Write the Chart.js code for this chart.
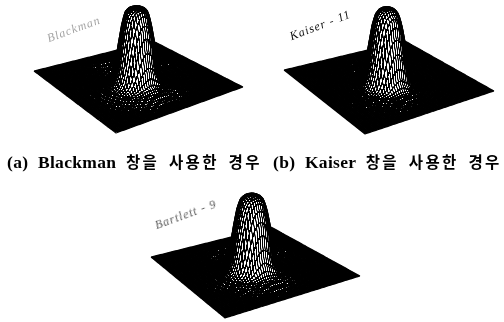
<!DOCTYPE html>
<html>
<head>
<meta charset="utf-8">
<script src="https://cdn.jsdelivr.net/npm/chart.js@4"></script>
<style>
    html, body { margin: 0; padding: 0; background: #fff; }
    #page { position: relative; width: 504px; height: 322px; overflow: hidden; }
    canvas { position: absolute; filter: blur(0.35px) contrast(3.5); }
    .caption {
        position: absolute; white-space: pre; color: #000; font-size: 17.5px; font-weight: bold;
        font-family: "Liberation Serif", serif; letter-spacing: 0.3px; word-spacing: 5px;
        filter: blur(0.3px);
    }
    .caption span {
        font-family: "Noto Sans CJK KR", sans-serif; font-size: 15.5px; letter-spacing: 2.4px;
    }
    .note {
        position: absolute; white-space: pre; color: #111; font-size: 12px; font-style: italic;
        font-family: "Liberation Serif", serif; transform-origin: left bottom; letter-spacing: 1px;
    }
</style>
</head>
<body>
<div id="page"></div>
<script>
// Magnitude, one value per radius step from the peak centre
const radiusStep = 0.02;
const blackmanMag = [1, 1, 0.995, 0.98, 0.93, 0.77, 0.54, 0.3, 0.13, 0.05, 0.026, 0.0, 0.026, 0.0, 0.024, 0.0, 0.022, 0.0, 0.018, 0.0, 0.012, 0, 0.006, 0, 0, 0, 0, 0, 0, 0];
const kaiserMag = [1, 0.995, 0.985, 0.96, 0.9, 0.76, 0.54, 0.3, 0.12, 0.035, 0.016, 0.0, 0.016, 0.0, 0.014, 0.0, 0.012, 0, 0.01, 0, 0.008, 0, 0.004, 0, 0, 0, 0, 0, 0, 0];
const bartlettMag = [1, 0.995, 0.985, 0.965, 0.92, 0.8, 0.6, 0.36, 0.16, 0.055, 0.026, 0.0, 0.024, 0.0, 0.022, 0.0, 0.02, 0, 0.016, 0, 0.01, 0, 0.006, 0, 0, 0, 0, 0, 0, 0];

const captionLabels = ['(a) Blackman 창을 사용한 경우', '(b) Kaiser 창을 사용한 경우'];
const noteLabels = ['Blackman', 'Kaiser - 11', 'Bartlett - 9'];

const meshSize = 64;

const panels = [
    { left: 0, top: 0, width: 252, height: 145, mag: blackmanMag, rise: 75,
      corners: { l: [34, 71], b: [153, 41], r: [243, 87], f: [116, 133] } },
    { left: 252, top: 0, width: 252, height: 145, mag: kaiserMag, rise: 76,
      corners: { l: [32, 70], b: [153, 41], r: [242, 91], f: [113, 134] } },
    { left: 130, top: 170, width: 252, height: 150, mag: bartlettMag, rise: 75,
      corners: { l: [21, 87], b: [141, 57], r: [230, 106], f: [95, 148] } }
];

function magAt(mag, radius) {
    const pos = radius / radiusStep;
    const i = Math.floor(pos);
    if (i >= mag.length - 1) return 0;
    return mag[i] + (mag[i + 1] - mag[i]) * (pos - i);
}

// grid node -> picture position, back corner first
function project(panel, i, j) {
    const u = i / meshSize, v = j / meshSize;
    const c = panel.corners;
    const bx = (1 - u) * (1 - v) * c.l[0] + u * (1 - v) * c.b[0] + (1 - u) * v * c.f[0] + u * v * c.r[0];
    const by = (1 - u) * (1 - v) * c.l[1] + u * (1 - v) * c.b[1] + (1 - u) * v * c.f[1] + u * v * c.r[1];
    const radius = Math.hypot(u - 0.5, v - 0.5);
    return { x: bx, y: by - magAt(panel.mag, radius) * panel.rise };
}

function buildDatasets(panel) {
    const sets = [];
    const gap = { x: NaN, y: NaN };
    // strips go from back to front so nearer ones hide what is behind them
    for (let j = 0; j < meshSize; j++) {
        const back = [], front = [];
        for (let i = 0; i <= meshSize; i++) {
            back.push(project(panel, i, j));
            front.push(project(panel, i, j + 1));
        }
        sets.push({
            data: back.concat(front.slice().reverse()),
            showLine: true, fill: 'shape', backgroundColor: '#fff',
            borderWidth: 0, borderColor: '#fff', pointRadius: 0
        });
        const wire = back.concat([gap], front, [gap]);
        for (let i = 0; i <= meshSize; i++) {
            wire.push(back[i], front[i], gap);
        }
        sets.push({
            data: wire, showLine: true, fill: false,
            borderColor: '#000', borderWidth: 1.1, pointRadius: 0
        });
    }
    // Chart.js paints the first dataset last
    return sets.reverse();
}

const page = document.getElementById('page');

panels.forEach(panel => {
    const canvas = document.createElement('canvas');
    canvas.style.left = panel.left + 'px';
    canvas.style.top = panel.top + 'px';
    canvas.width = panel.width;
    canvas.height = panel.height;
    page.appendChild(canvas);
    new Chart(canvas.getContext('2d'), {
        type: 'scatter',
        data: { datasets: buildDatasets(panel) },
        options: {
            responsive: false,
            animation: false,
            events: [],
            layout: { padding: 0 },
            scales: {
                x: { type: 'linear', min: 0, max: panel.width, display: false },
                y: { type: 'linear', min: 0, max: panel.height, reverse: true, display: false }
            },
            plugins: { legend: { display: false }, tooltip: { enabled: false } }
        }
    });
});

function addCaption(text, left, top) {
    const el = document.createElement('div');
    el.className = 'caption';
    // hangul runs get their own span, sized apart from the latin
    el.innerHTML = text.replace(/[가-힣]+/g, m => `<span>${m}</span>`);
    el.style.left = left + 'px';
    el.style.top = top + 'px';
    page.appendChild(el);
}

function addNote(text, left, top, rotate, opacity) {
    const el = document.createElement('div');
    el.className = 'note';
    el.textContent = text;
    el.style.left = left + 'px';
    el.style.top = top + 'px';
    el.style.transform = `rotate(${rotate}deg)`;
    el.style.opacity = opacity;
    page.appendChild(el);
}

addCaption(captionLabels[0], 7, 150);
addCaption(captionLabels[1], 273, 150);
addNote(noteLabels[0], 50, 31, -20, 0.4);
addNote(noteLabels[1], 293, 29, -21, 1);
addNote(noteLabels[2], 158, 218, -20, 0.7);
</script>
</body>
</html>
